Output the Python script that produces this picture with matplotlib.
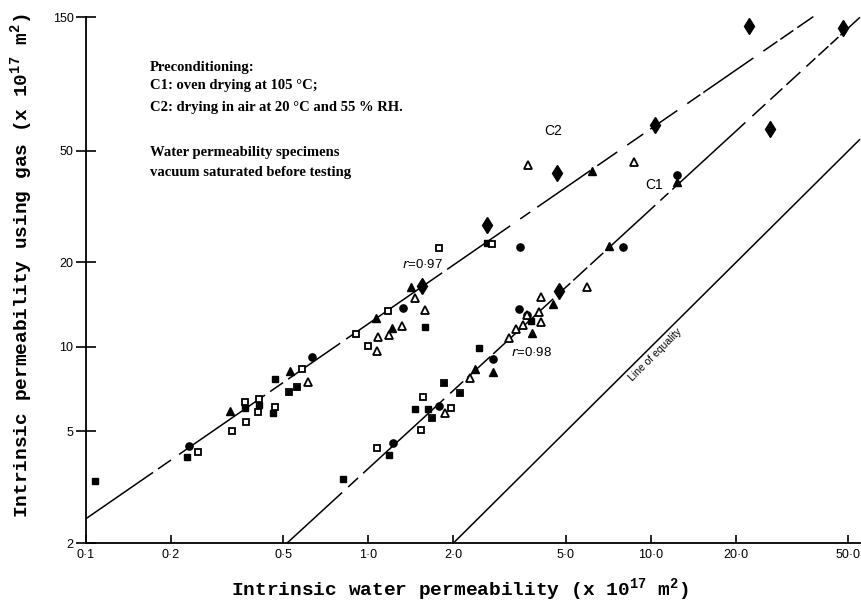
import numpy as np
import matplotlib
matplotlib.use("Agg")
import matplotlib.pyplot as plt
from matplotlib.ticker import NullLocator

# ---- data (x = water, y = gas, both x1e-17 m2)
fc_x = [0.232, 0.632, 1.328, 3.446, 7.98, 12.4, 3.418, 3.65, 2.765, 1.78, 1.22]
fc_y = [4.44, 9.21, 13.76, 22.7, 22.7, 41.0, 13.66, 13.0, 9.06, 6.16, 4.55]

fs_x = [0.108, 0.228, 0.366, 0.410, 0.46, 0.467, 1.59, 2.62, 3.77, 2.466,
        1.46, 1.627, 1.184, 0.814]
fs_y = [3.33, 4.05, 6.06, 6.21, 5.81, 7.69, 11.78, 23.5, 12.4, 9.92,
        6.01, 6.01, 4.12, 3.38]

ds_x = [0.524, 0.559, 1.855, 2.113, 1.68]          # squares with a dot
ds_y = [6.91, 7.20, 7.44, 6.85, 5.58]

os_x = [0.249, 0.329, 0.366, 0.369, 0.410, 0.407, 0.467, 0.582, 0.904, 0.998,
        1.17, 1.780, 2.743, 1.562, 1.963, 1.54, 1.073]
os_y = [4.22, 5.01, 6.37, 5.40, 6.52, 5.86, 6.11, 8.34, 11.1, 10.08,
        13.43, 22.5, 23.3, 6.63, 6.06, 5.06, 4.36]

ft_x = [0.3236, 0.528, 1.065, 1.213, 1.417, 6.20, 12.4, 7.12, 4.51, 3.80,
        2.388, 2.765]
ft_y = [5.91, 8.21, 12.68, 11.68, 16.35, 42.4, 38.7, 22.9, 14.2, 11.2,
        8.34, 8.14]

ot_x = [0.611, 1.073, 1.081, 1.184, 1.317, 1.46, 1.59, 3.68, 8.735, 4.09,
        5.95, 3.336, 3.151, 3.53, 3.65, 4.02, 4.09, 2.293, 1.87]
ot_y = [7.50, 9.67, 10.85, 11.03, 11.87, 14.94, 13.54, 44.5, 45.6, 15.07,
        16.35, 11.59, 10.76, 11.97, 13.0, 13.3, 12.27, 7.75, 5.81]

fd_x = [1.549, 2.634, 4.66, 10.36, 22.3, 48.0, 26.3, 4.74]
fd_y = [16.5, 27.2, 41.7, 61.8, 139.4, 137.0, 59.8, 15.8]

# fitted lines y = a * x**b, drawn between x0 and x1
C2_FIT = (12.1, 0.695, 0.1, 37.6)
C1_FIT = (3.69, 0.924, 0.515, 55.0)
EQ_FIT = (1.0, 1.0, 2.0, 55.0)

X_TICKS = [0.1, 0.2, 0.5, 1.0, 2.0, 5.0, 10.0, 20.0, 50.0]
X_TICKLABELS = ["0·1", "0·2", "0·5", "1·0", "2·0", "5·0", "10·0", "20·0", "50·0"]
Y_TICKS = [2, 5, 10, 20, 50, 150]
Y_TICKLABELS = ["2", "5", "10", "20", "50", "150"]

# gaps of the hand-drawn broken lines (style only)
C2_GAPS = [(0.1727, 0.1799), (0.200, 0.2136), (0.4306, 0.4485), (0.4986, 0.5195),
           (0.794, 0.8337), (1.056, 1.082), (1.824, 1.90), (3.177, 3.446),
           (3.74, 3.959), (6.10, 6.458), (7.603, 8.249), (9.40, 9.95),
           (12.40, 13.45), (14.96, 15.33), (23.06, 25.01), (28.04, 28.73),
           (31.94, 33.0)]
C1_GAPS = [(0.807, 0.8475), (0.9194, 0.9577), (1.854, 1.947), (2.165, 2.237),
           (2.698, 2.765), (4.511, 4.699), (5.183, 5.311), (5.953, 6.10),
           (6.783, 7.008), (10.36, 10.80), (11.53, 11.91), (21.6, 22.87),
           (25.42, 26.48), (29.21, 30.18), (33.82, 35.52), (38.23, 39.18),
           (42.51, 43.21), (46.12, 46.87)]

plt.rcParams.update({"font.family": "Liberation Sans"})

fig = plt.figure(figsize=(8.62, 6.11), dpi=100)
ax = fig.add_axes([86 / 862, 68 / 611, 774 / 862, 526 / 611])
ax.set_xscale("log")
ax.set_yscale("log")
ax.set_xlim(0.1, 55)
ax.set_ylim(2, 150)
for s in ["top", "right"]:
    ax.spines[s].set_visible(False)
for s in ["left", "bottom"]:
    ax.spines[s].set_linewidth(1.3)


def broken_line(fit, gaps):
    a, b, x0, x1 = fit
    edges = [x0] + [g for pair in gaps for g in pair] + [x1]
    for s, e in zip(edges[0::2], edges[1::2]):
        xs = np.array([s, e])
        ax.plot(xs, a * xs ** b, color="k", lw=1.1, solid_capstyle="butt",
                clip_on=False, zorder=2)


broken_line(C2_FIT, C2_GAPS)
broken_line(C1_FIT, C1_GAPS)
broken_line(EQ_FIT, [])

ms = 5.2
kw = dict(ls="", zorder=3, clip_on=False)
ax.plot(fc_x, fc_y, marker="o", ms=ms, mfc="k", mec="k", **kw)
ax.plot(fs_x, fs_y, marker="s", ms=ms - 0.4, mfc="k", mec="k", **kw)
ax.plot(os_x, os_y, marker="s", ms=ms - 0.4, mfc="white", mec="k", mew=1.3, **kw)
ax.plot(ds_x, ds_y, marker="s", ms=ms - 0.4, mfc="white", mec="k", mew=1.3, **kw)
ax.plot(ds_x, ds_y, marker="s", ms=2.2, mfc="k", mec="k", **kw)
ax.plot(ft_x, ft_y, marker="^", ms=ms + 0.6, mfc="k", mec="k", **kw)
ax.plot(ot_x, ot_y, marker="^", ms=ms + 0.6, mfc="white", mec="k", mew=1.3, **kw)
ax.plot(fd_x, fd_y, marker="d", ms=8, mfc="k", mec="k", **kw)

ax.set_xticks(X_TICKS)
ax.set_xticklabels(X_TICKLABELS)
ax.set_yticks(Y_TICKS)
ax.set_yticklabels(Y_TICKLABELS)
ax.xaxis.set_minor_locator(NullLocator())
ax.yaxis.set_minor_locator(NullLocator())
ax.tick_params(axis="x", direction="in", length=6, width=1.2, labelsize=9, pad=4)
ax.tick_params(axis="y", direction="inout", length=14, width=1.2, labelsize=9, pad=2)

lab = dict(family="Liberation Mono", fontweight="bold", fontsize=14)
fig.text(460 / 862, 1 - 590 / 611,
         r"Intrinsic water permeability (x $\mathregular{10^{17}}$ m$\mathregular{^2}$)",
         ha="center", va="center", **lab)
fig.text(22 / 862, 1 - 266 / 611,
         r"Intrinsic permeability using gas (x $\mathregular{10^{17}}$ m$\mathregular{^2}$)",
         ha="center", va="center", rotation=90, **lab)

note = dict(family="Liberation Serif", fontweight="bold", fontsize=10.5,
            ha="left", va="center")
fig.text(150 / 862, 1 - 67 / 611, "Preconditioning:", **note)
fig.text(150 / 862, 1 - 86 / 611, "C1: oven drying at 105 °C;", **note)
fig.text(150 / 862, 1 - 107 / 611, "C2: drying in air at 20 °C and 55 % RH.", **note)
fig.text(150 / 862, 1 - 152 / 611, "Water permeability specimens", **note)
fig.text(150 / 862, 1 - 172 / 611, "vacuum saturated before testing", **note)

ax.text(4.51, 58.9, "C2", fontsize=10, ha="center", va="center")
ax.text(10.28, 37.8, "C1", fontsize=10, ha="center", va="center")
ax.text(1.549, 19.6, r"$\it{r}$=0·97", fontsize=9.5, ha="center", va="center")
ax.text(3.77, 9.52, r"$\it{r}$=0·98", fontsize=9.5, ha="center", va="center")
ax.text(10.36, 9.36, "Line of equality", fontsize=7.5, rotation=44.8,
        ha="center", va="center", rotation_mode="anchor")

fig.savefig("out.png", dpi=100)
